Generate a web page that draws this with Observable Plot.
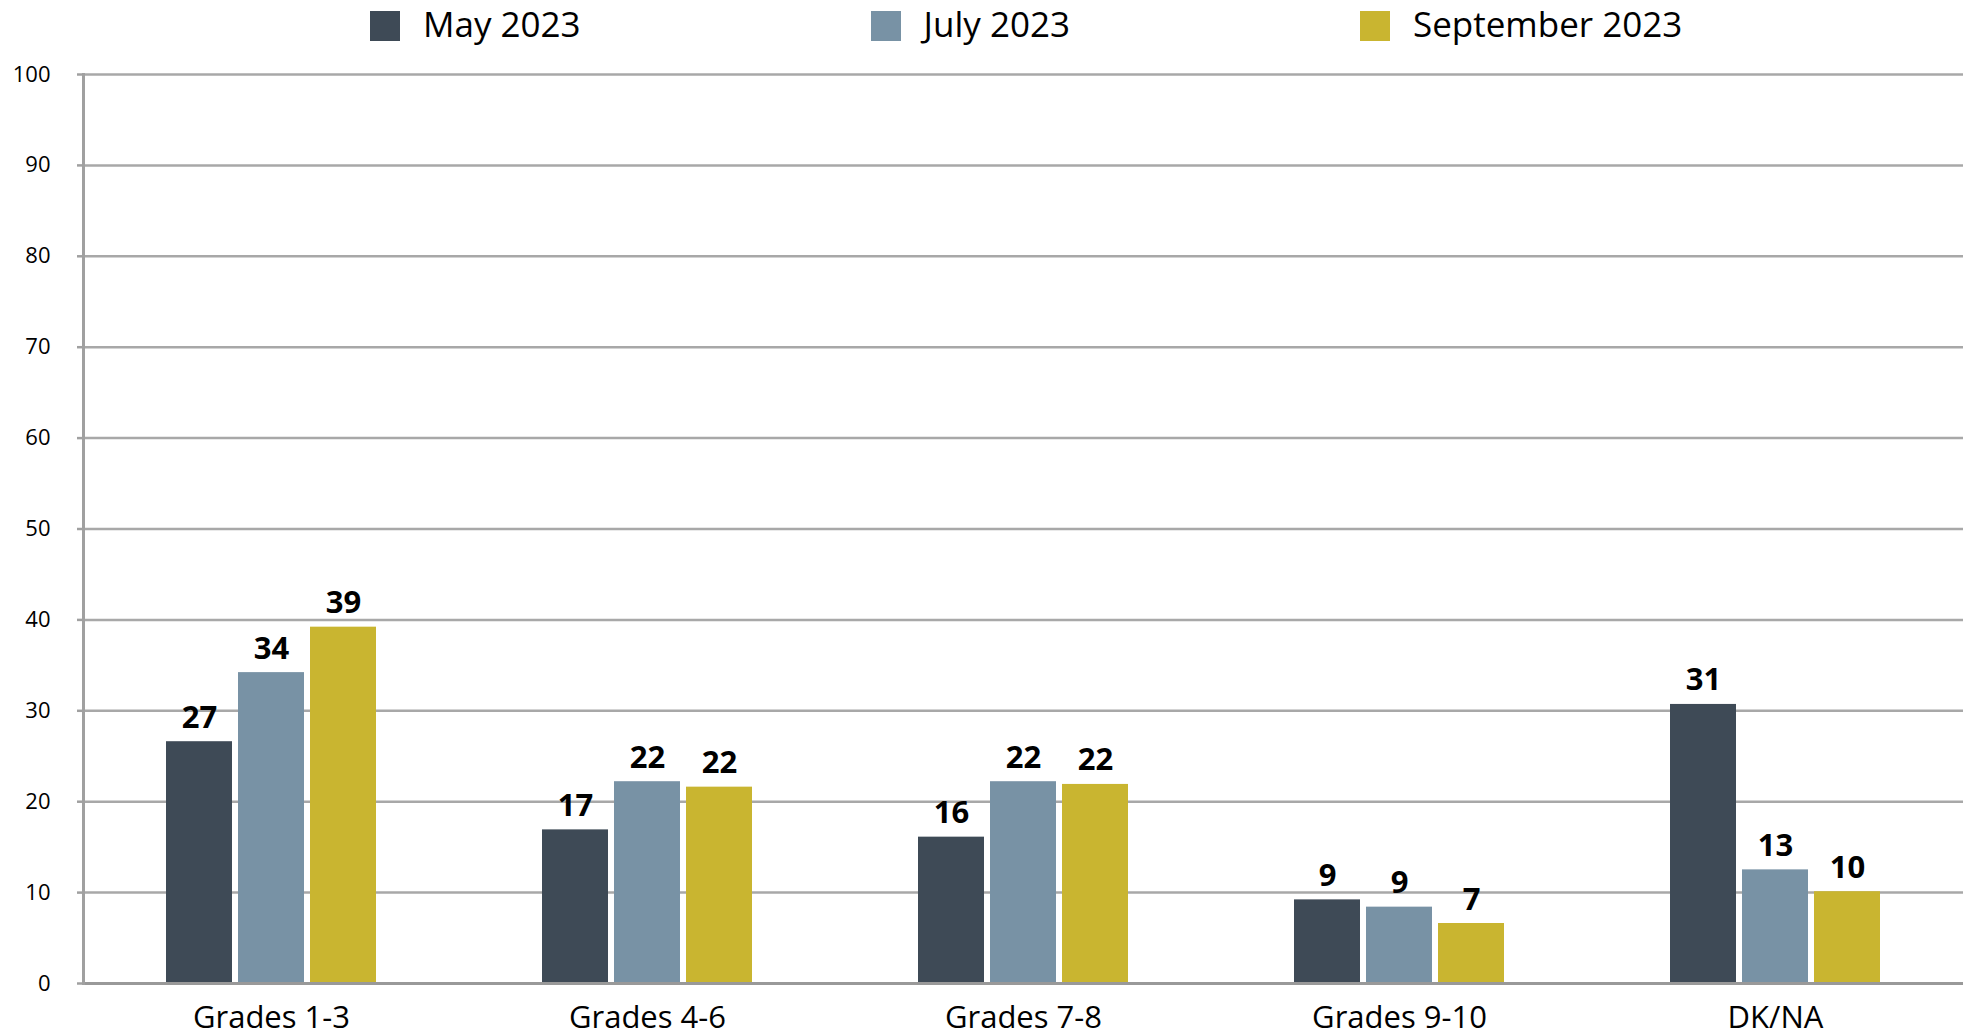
<!DOCTYPE html>
<html>
<head>
<meta charset="utf-8">
<script src="https://cdn.jsdelivr.net/npm/d3@7"></script>
<script src="https://cdn.jsdelivr.net/npm/@observablehq/plot@0.6"></script>
<style>
  html, body { margin: 0; padding: 0; background: #fff; }
  body { width: 1971px; height: 1036px; overflow: hidden; font-family: "Open Sans", sans-serif; }
  #legend { height: 56px; box-sizing: border-box; padding: 11px 0 0 370px; display: flex; align-items: flex-start; gap: 290px; }
  #legend .item { display: flex; align-items: center; height: 30px; }
  #legend .sw { width: 30px; height: 30px; margin-right: 23px; }
  #legend .lab { font-size: 35px; line-height: 30px; color: #000; white-space: nowrap; position: relative; top: -2px; }
  svg { display: block; }
</style>
</head>
<body>
<div id="legend"></div>
<div id="chart"></div>
<script>
const categories = ["Grades 1-3", "Grades 4-6", "Grades 7-8", "Grades 9-10", "DK/NA"];
const seriesNames = ["May 2023", "July 2023", "September 2023"];
const seriesColors = ["#3e4a56", "#7892a5", "#c9b530"];
const may2023 = [26.6, 16.9, 16.1, 9.2, 30.7];
const july2023 = [34.2, 22.2, 22.2, 8.4, 12.5];
const sept2023 = [39.2, 21.6, 21.9, 6.6, 10.1];
const mayLabels = [27, 17, 16, 9, 31];
const julyLabels = [34, 22, 22, 9, 13];
const septLabels = [39, 22, 22, 7, 10];
const yTicks = [0, 10, 20, 30, 40, 50, 60, 70, 80, 90, 100];

const seriesValues = [may2023, july2023, sept2023];
const seriesLabels = [mayLabels, julyLabels, septLabels];
const rows = [];
categories.forEach((c, i) => {
  seriesNames.forEach((s, j) => {
    rows.push({category: c, series: s, value: seriesValues[j][i], label: String(seriesLabels[j][i])});
  });
});

// legend
const legend = document.getElementById("legend");
seriesNames.forEach((s, j) => {
  const item = document.createElement("div");
  item.className = "item";
  const sw = document.createElement("div");
  sw.className = "sw";
  sw.style.background = seriesColors[j];
  const lab = document.createElement("span");
  lab.className = "lab";
  lab.textContent = s;
  item.appendChild(sw);
  item.appendChild(lab);
  legend.appendChild(item);
});

const chart = Plot.plot({
  width: 1971,
  height: 980,
  marginLeft: 83,
  marginRight: 8,
  marginTop: 18,
  marginBottom: 53,
  style: {fontFamily: "'Open Sans', sans-serif", fontSize: "22px", color: "#000", background: "#fff"},
  fx: {domain: categories, paddingInner: 0, paddingOuter: 0, label: null},
  x: {domain: seriesNames, paddingInner: 0.083, paddingOuter: 1.15, axis: null},
  y: {domain: [0, 100], axis: null},
  color: {domain: seriesNames, range: seriesColors},
  marks: [
    Plot.ruleY(yTicks.filter(d => d > 0), {stroke: "#a8a8a8", strokeWidth: 2.5}),
    Plot.barY(rows, {fx: "category", x: "series", y: "value", fill: "series"}),
    Plot.ruleY([0], {stroke: "#999999", strokeWidth: 3}),
    Plot.text(rows, {fx: "category", x: "series", y: "value", text: "label", lineAnchor: "bottom", dy: -14, fontWeight: "bold", fontSize: 31, fill: "#000"}),
    Plot.axisY({ticks: yTicks, tickFormat: d => String(d), tickSize: 6, tickPadding: 27, stroke: "#a0a0a0", strokeWidth: 2.5, fill: "#000", fontSize: 22, label: null}),
    Plot.frame({anchor: "left", facetAnchor: "left", stroke: "#a0a0a0", strokeWidth: 3}),
    Plot.axisFx({anchor: "bottom", tickSize: 0, tickPadding: 22, fontSize: 31, fill: "#000", label: null})
  ]
});
document.getElementById("chart").appendChild(chart);
</script>
</body>
</html>
